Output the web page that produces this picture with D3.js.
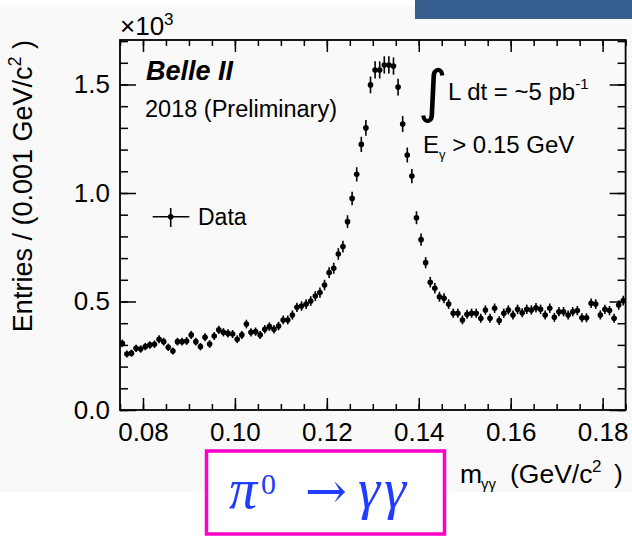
<!DOCTYPE html>
<html>
<head>
<meta charset="utf-8">
<script src="https://d3js.org/d3.v7.min.js"></script>
<style>
    body { margin: 0; background: #ffffff; }
    svg { display: block; font-family: "Liberation Sans", Arial, sans-serif; }
</style>
</head>
<body>
<script>
(function(){

    //histogram binning in GeV/c^2
    var binLow = 0.075,
        binWidth = 0.001;

    //entries per 1 MeV bin
    var counts = [
        307, 258, 262, 284, 281, 292, 300, 303, 326, 315,
        289, 272, 315, 315, 318, 346, 315, 292, 335, 304,
        341, 369, 358, 353, 350, 326, 346, 396, 358, 361,
        346, 372, 384, 372, 387, 415, 415, 438, 473, 479,
        488, 502, 525, 541, 576, 633, 653, 719, 753, 868,
        975, 1086, 1224, 1300, 1498, 1567, 1567, 1590, 1590, 1585,
        1488, 1318, 1175, 1078, 886, 785, 679, 589, 561, 522,
        515, 488, 446, 446, 415, 441, 446, 446, 423, 461,
        423, 469, 412, 446, 461, 438, 464, 448, 464, 461,
        471, 464, 438, 469, 427, 453, 453, 438, 453, 458,
        425, 425, 492, 488, 438, 464, 458, 423, 484, 504
    ];

    //axis ranges and tick labels
    var xDomain = [0.075, 0.185],
        yDomain = [0, 1.705];
    var xMajorTicks = [0.08, 0.10, 0.12, 0.14, 0.16, 0.18],
        yMajorTicks = [0.0, 0.5, 1.0, 1.5];
    var xMinorStep = 0.005,
        yMinorStep = 0.1;

    window.onload = setChart();

    function setChart(){
        var width = 632,
            height = 536;

        //frame of the plot
        var frame = {left: 120, right: 625.6, top: 40, bottom: 410};

        var svg = d3.select("body")
            .append("svg")
            .attr("width", width)
            .attr("height", height);

        //light grey slide panel behind the plot
        svg.append("rect")
            .attr("x", 0)
            .attr("y", 7)
            .attr("width", width)
            .attr("height", 485)
            .style("fill", "#f9f9f9");

        //blue bar at top right of the slide
        svg.append("rect")
            .attr("x", 415)
            .attr("y", 0)
            .attr("width", 217)
            .attr("height", 19)
            .style("fill", "#365e8f");

        var x = d3.scaleLinear()
            .domain(xDomain)
            .range([frame.left, frame.right]);

        var y = d3.scaleLinear()
            .domain(yDomain)
            .range([frame.bottom, frame.top]);

        drawAxes(svg, x, y, frame);
        drawPoints(svg, x, y);
        drawLabels(svg);
    };

    function drawAxes(svg, x, y, frame){
        var xMinor = d3.range(xDomain[0], xDomain[1] + 1e-9, xMinorStep),
            yMinor = d3.range(0, yDomain[1], yMinorStep);

        //bottom axis with labels
        svg.append("g")
            .attr("class", "axis")
            .attr("transform", "translate(0," + frame.bottom + ")")
            .call(d3.axisBottom(x)
                .tickValues(xMajorTicks)
                .tickSize(-12)
                .tickPadding(13)
                .tickFormat(d3.format(".2f")));
        svg.append("g")
            .attr("class", "axis")
            .attr("transform", "translate(0," + frame.bottom + ")")
            .call(d3.axisBottom(x).tickValues(xMinor).tickSize(-6).tickFormat(""));

        //top axis, ticks only
        svg.append("g")
            .attr("class", "axis")
            .attr("transform", "translate(0," + frame.top + ")")
            .call(d3.axisTop(x).tickValues(xMajorTicks).tickSize(-12).tickFormat(""));
        svg.append("g")
            .attr("class", "axis")
            .attr("transform", "translate(0," + frame.top + ")")
            .call(d3.axisTop(x).tickValues(xMinor).tickSize(-6).tickFormat(""));

        //left axis with labels
        svg.append("g")
            .attr("class", "axis")
            .attr("transform", "translate(" + frame.left + ",0)")
            .call(d3.axisLeft(y)
                .tickValues(yMajorTicks)
                .tickSize(-16)
                .tickPadding(10)
                .tickFormat(d3.format(".1f")));
        svg.append("g")
            .attr("class", "axis")
            .attr("transform", "translate(" + frame.left + ",0)")
            .call(d3.axisLeft(y).tickValues(yMinor).tickSize(-8).tickFormat(""));

        //right axis, ticks only
        svg.append("g")
            .attr("class", "axis")
            .attr("transform", "translate(" + frame.right + ",0)")
            .call(d3.axisRight(y).tickValues(yMajorTicks).tickSize(-16).tickFormat(""));
        svg.append("g")
            .attr("class", "axis")
            .attr("transform", "translate(" + frame.right + ",0)")
            .call(d3.axisRight(y).tickValues(yMinor).tickSize(-8).tickFormat(""));

        //root style: no domain paths, a plain frame instead
        svg.selectAll(".axis .domain").remove();
        svg.selectAll(".axis line")
            .style("stroke", "#000")
            .style("stroke-width", 1.5);
        svg.selectAll(".axis text")
            .style("font-family", "Liberation Sans, Arial, sans-serif")
            .style("font-size", "26px")
            .style("fill", "#000");

        svg.append("rect")
            .attr("x", frame.left)
            .attr("y", frame.top)
            .attr("width", frame.right - frame.left)
            .attr("height", frame.bottom - frame.top)
            .style("fill", "none")
            .style("stroke", "#000")
            .style("stroke-width", 1.8);
    };

    function drawPoints(svg, x, y){
        //bins with poisson errors, counts shown in units of 10^3
        var bins = counts.map(function(c, i){
            var lo = binLow + i * binWidth;
            return {lo: lo, hi: lo + binWidth, mid: lo + binWidth / 2, n: c, err: Math.sqrt(c)};
        });

        var points = svg.append("g").attr("class", "points");

        points.selectAll(".ybar")
            .data(bins)
            .enter()
            .append("line")
            .attr("class", "ybar")
            .attr("x1", function(d){ return x(d.mid); })
            .attr("x2", function(d){ return x(d.mid); })
            .attr("y1", function(d){ return y((d.n - d.err) / 1000); })
            .attr("y2", function(d){ return y((d.n + d.err) / 1000); });

        points.selectAll(".xbar")
            .data(bins)
            .enter()
            .append("line")
            .attr("class", "xbar")
            .attr("x1", function(d){ return x(d.lo); })
            .attr("x2", function(d){ return x(d.hi); })
            .attr("y1", function(d){ return y(d.n / 1000); })
            .attr("y2", function(d){ return y(d.n / 1000); });

        points.selectAll("line")
            .style("stroke", "#000")
            .style("stroke-width", 1.6);

        points.selectAll(".marker")
            .data(bins)
            .enter()
            .append("circle")
            .attr("class", "marker")
            .attr("cx", function(d){ return x(d.mid); })
            .attr("cy", function(d){ return y(d.n / 1000); })
            .attr("r", 2.8)
            .style("fill", "#000");
    };

    function drawLabels(svg){
        //exponent above the y axis
        var expo = svg.append("text")
            .attr("x", 120)
            .attr("y", 35)
            .style("font-size", "26px");
        expo.append("tspan").text("\u00d710");
        expo.append("tspan").attr("dy", -10).style("font-size", "17px").text("3");

        //y axis title
        var yTitle = svg.append("text")
            .attr("transform", "translate(32,40) rotate(-90)")
            .attr("text-anchor", "end")
            .style("font-size", "27px");
        yTitle.append("tspan").text("Entries / (0.001 GeV/c");
        yTitle.append("tspan").attr("dy", -11).style("font-size", "18px").text("2");
        yTitle.append("tspan").attr("dy", 11).text(" )");

        //x axis title, pieces placed like the root latex layout
        var xTitle = svg.append("text")
            .attr("y", 483)
            .style("font-size", "26.5px");
        xTitle.append("tspan").attr("x", 460).text("m");
        xTitle.append("tspan").attr("x", 481).attr("dy", 6).style("font-size", "15px").text("\u03b3\u03b3");
        xTitle.append("tspan").attr("x", 510).attr("dy", -6).text("(GeV/c");
        xTitle.append("tspan").attr("x", 592).attr("dy", -11).style("font-size", "17px").text("2");
        xTitle.append("tspan").attr("x", 614).attr("dy", 11).text(")");

        //experiment label
        svg.append("text")
            .attr("x", 146)
            .attr("y", 80)
            .style("font-size", "27px")
            .style("font-weight", "bold")
            .style("font-style", "italic")
            .text("Belle II");
        svg.append("text")
            .attr("x", 145)
            .attr("y", 117)
            .style("font-size", "23.5px")
            .text("2018 (Preliminary)");

        //legend entry
        svg.append("line")
            .attr("x1", 152.7).attr("x2", 189.3)
            .attr("y1", 216.7).attr("y2", 216.7)
            .style("stroke", "#000").style("stroke-width", 1.6);
        svg.append("line")
            .attr("x1", 170.7).attr("x2", 170.7)
            .attr("y1", 208).attr("y2", 227)
            .style("stroke", "#000").style("stroke-width", 1.6);
        svg.append("circle")
            .attr("cx", 170.7).attr("cy", 216.7).attr("r", 2.8)
            .style("fill", "#000");
        svg.append("text")
            .attr("x", 198)
            .attr("y", 225)
            .style("font-size", "23px")
            .text("Data");

        //luminosity and photon cut
        svg.append("text")
            .attr("x", 418)
            .attr("y", 111)
            .style("font-family", "DejaVu Sans, sans-serif")
            .style("font-size", "57px")
            .text("\u222b");
        var lumi = svg.append("text")
            .attr("x", 448)
            .attr("y", 100)
            .style("font-size", "24px");
        lumi.append("tspan").text("L dt = ~5 pb");
        lumi.append("tspan").attr("dy", -11).style("font-size", "15px").text("-1");

        var cut = svg.append("text")
            .attr("x", 423)
            .attr("y", 153)
            .style("font-size", "24px");
        cut.append("tspan").text("E");
        cut.append("tspan").attr("dy", 6).style("font-size", "13px").text("\u03b3");
        cut.append("tspan").attr("dy", -6).text(" > 0.15 GeV");

        //decay label in magenta box
        svg.append("rect")
            .attr("x", 206.5)
            .attr("y", 451)
            .attr("width", 238)
            .attr("height", 83)
            .style("fill", "#ffffff")
            .style("stroke", "#ff00cc")
            .style("stroke-width", 3.5);
        var decay = svg.append("text")
            .attr("y", 508)
            .style("font-family", "Liberation Serif, serif")
            .style("font-size", "56px")
            .style("fill", "#1f3cff");
        decay.append("tspan").attr("x", 229).style("font-style", "italic").text("\u03c0");
        decay.append("tspan").attr("x", 261).attr("dy", -14).style("font-size", "30px").text("0");
        decay.append("tspan").attr("x", 305).attr("dy", 14)
            .style("font-family", "DejaVu Serif, serif").style("font-size", "50px").text("\u2192");
        decay.append("tspan").attr("x", 358).style("font-style", "italic")
            .style("letter-spacing", "4px").text("\u03b3\u03b3");
    };

})();
</script>
</body>
</html>
